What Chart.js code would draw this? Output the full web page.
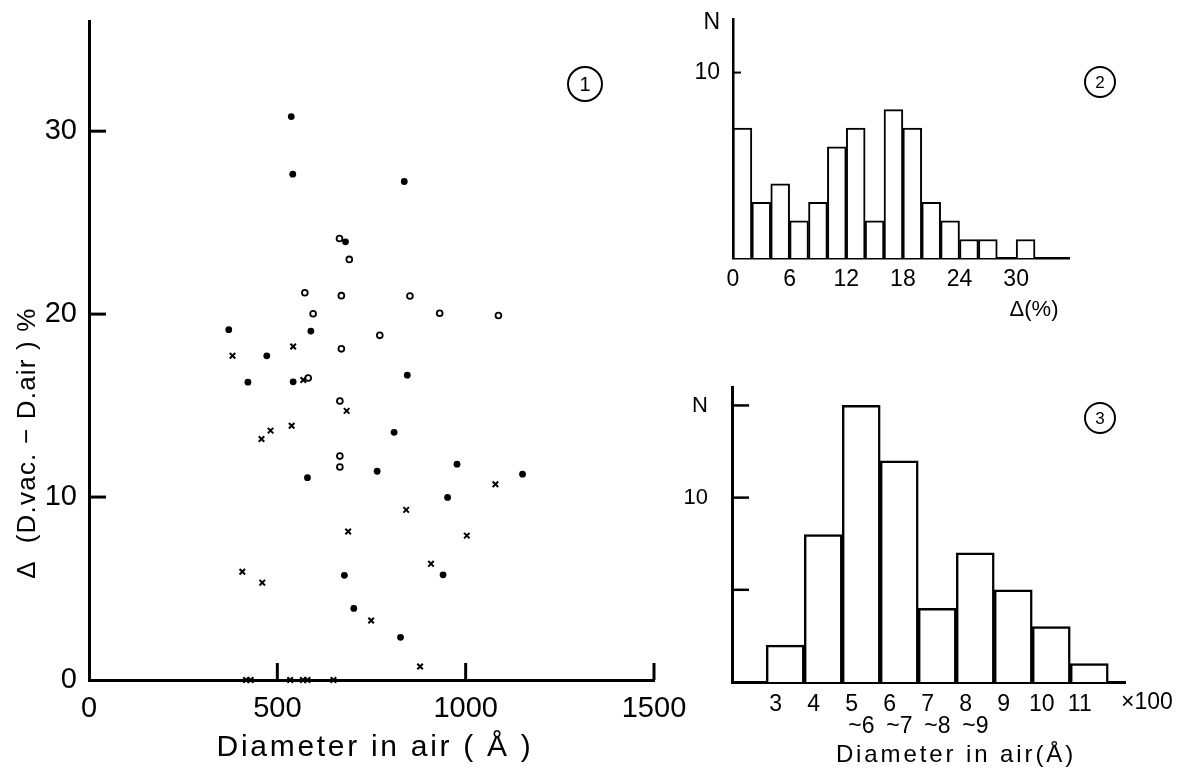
<!DOCTYPE html>
<html>
<head>
<meta charset="utf-8">
<title>Delta vs diameter</title>
<script src="https://cdn.jsdelivr.net/npm/chart.js@4.4.1/dist/chart.umd.min.js"></script>
<style>
  html, body { margin: 0; padding: 0; background: #fff; }
  #wrap { position: relative; width: 1178px; height: 769px; overflow: hidden; }
  canvas { position: absolute; }
</style>
</head>
<body>
<div id="wrap">
  <canvas id="scatter" width="700" height="769" style="left:0;top:0"></canvas>
  <canvas id="histDelta" width="498" height="340" style="left:680px;top:0"></canvas>
  <canvas id="histDiam" width="498" height="429" style="left:680px;top:340px"></canvas>
</div>
<script>
// ==========================
// Data (Diameter in air Å, Δ %)
// ==========================
const filledPts = [
  [537, 30.8], [541, 27.65], [837, 27.25], [681, 23.95], [371, 19.15], [589, 19.07],
  [472, 17.72], [422, 16.28], [542, 16.3], [845, 16.66], [810, 13.54], [580, 11.06],
  [765, 11.41], [977, 11.8], [1151, 11.25], [952, 9.98], [940, 5.75], [678, 5.72],
  [703, 3.91], [827, 2.33]
];
const openPts = [
  [665, 24.13], [691, 22.99], [573, 21.17], [670, 21.01], [852, 20.99], [595, 20.02],
  [931, 20.05], [1087, 19.92], [772, 18.84], [670, 18.1], [582, 16.51], [666, 15.25],
  [666, 12.24], [666, 11.64]
];
const crossPts = [
  [542, 18.23], [381, 17.72], [569, 16.4], [684, 14.71], [458, 13.17], [482, 13.63],
  [538, 13.9], [1079, 10.7], [842, 9.3], [688, 8.12], [1003, 7.89], [908, 6.35],
  [407, 5.92], [460, 5.32], [749, 3.25], [879, 0.74],
  [417, 0], [429, 0], [534, 0], [568, 0], [580, 0], [649, 0]
];
const scatterXTicks = [0, 500, 1000, 1500];
const scatterYTicks = [0, 10, 20, 30];

// histogram 2 : Δ (%) in bins of 2
const deltaBinCenters = [1, 3, 5, 7, 9, 11, 13, 15, 17, 19, 21, 23, 25, 27, 29, 31];
const deltaCounts = [7, 3, 4, 2, 3, 6, 7, 2, 8, 7, 3, 2, 1, 1, 0, 1];
const deltaXTicks = [0, 6, 12, 18, 24, 30];

// histogram 3 : diameter (x100 Å) in bins of 100
const diamBinCenters = [3.5, 4.5, 5.5, 6.5, 7.5, 8.5, 9.5, 10.5, 11.5];
const diamCounts = [2, 8, 15, 12, 4, 7, 5, 3, 1];
const diamXTicks = [3, 4, 5, 6, 7, 8, 9, 10, 11];
const diamTickLabels = ["3", "4", ["5", "   ~6"], ["6", "   ~7"], ["7", "   ~8"], ["8", "   ~9"], "9", "10", "11"];

const FONT = "'Liberation Sans', Arial, sans-serif";

const toXY = (arr) => arr.map(([x, y]) => ({ x, y }));
const setTicks = (vals) => (s) => { s.ticks = vals.map((v) => ({ value: v })); };

// ==========================
// Plugins: inner tick marks + free text
// ==========================
const innerTicks = {
  id: "innerTicks",
  afterDatasetsDraw(chart, args, opts) {
    const { ctx } = chart;
    const xs = chart.scales.x, ys = chart.scales.y;
    ctx.save();
    ctx.strokeStyle = "#000";
    ctx.lineWidth = opts.width || 2;
    (opts.x || []).forEach((v) => {
      const p = xs.getPixelForValue(v);
      ctx.beginPath(); ctx.moveTo(p, ys.bottom); ctx.lineTo(p, ys.bottom - opts.len); ctx.stroke();
    });
    (opts.y || []).forEach((v) => {
      const p = ys.getPixelForValue(v);
      ctx.beginPath(); ctx.moveTo(xs.left, p); ctx.lineTo(xs.left + opts.len, p); ctx.stroke();
    });
    ctx.restore();
  }
};

const notes = {
  id: "notes",
  afterDraw(chart, args, opts) {
    const { ctx } = chart;
    ctx.save();
    ctx.fillStyle = "#000";
    ctx.textAlign = "center";
    ctx.textBaseline = "middle";
    (opts.texts || []).forEach((t) => {
      ctx.save();
      ctx.font = t.font;
      ctx.letterSpacing = (t.spacing || 0) + "px";
      ctx.translate(t.x, t.y);
      if (t.rotate) ctx.rotate(t.rotate);
      ctx.fillText(t.text, 0, 0);
      ctx.restore();
    });
    (opts.circles || []).forEach((c) => {
      ctx.beginPath();
      ctx.lineWidth = 2;
      ctx.strokeStyle = "#000";
      ctx.arc(c.x, c.y, c.r, 0, Math.PI * 2);
      ctx.stroke();
      ctx.font = c.font;
      ctx.fillText(c.text, c.x, c.y + 1);
    });
    ctx.restore();
  }
};

const baseOpts = {
  responsive: false,
  animation: false,
  devicePixelRatio: 1,
  events: []
};

// ==========================
// 1: scatter
// ==========================
new Chart(document.getElementById("scatter"), {
  type: "scatter",
  data: {
    datasets: [
      { data: toXY(filledPts), pointStyle: "circle", pointRadius: 3.4, backgroundColor: "#000", borderColor: "#000", borderWidth: 0, clip: false },
      { data: toXY(openPts), pointStyle: "circle", pointRadius: 2.9, backgroundColor: "#fff", borderColor: "#000", borderWidth: 1.8, clip: false },
      { data: toXY(crossPts), pointStyle: "crossRot", pointRadius: 3.9, borderColor: "#000", borderWidth: 2, clip: false }
    ]
  },
  options: {
    ...baseOpts,
    layout: { padding: { top: 15, right: 46, bottom: 0, left: 0 } },
    plugins: {
      legend: { display: false },
      tooltip: { enabled: false },
      innerTicks: { x: [500, 1000, 1500], y: [10, 20, 30], len: 17, width: 3 },
      notes: {
        texts: [
          { text: "Diameter in air ( Å )", x: 375, y: 748, font: `30px ${FONT}`, spacing: 2.7 },
          { text: "Δ  (D.vac. − D.air ) %", x: 28, y: 443, font: `26px ${FONT}`, spacing: 1.2, rotate: -Math.PI / 2 }
        ],
        circles: [{ x: 585, y: 84, r: 17, text: "1", font: `20px ${FONT}` }]
      }
    },
    scales: {
      x: {
        type: "linear", min: 0, max: 1500, offset: false,
        afterBuildTicks: setTicks(scatterXTicks),
        afterFit: (s) => { s.height = 89; },
        grid: { display: false },
        border: { color: "#000", width: 3 },
        ticks: { color: "#000", font: { family: FONT, size: 29 }, padding: 4, maxRotation: 0, autoSkip: false,
                 callback: (v) => String(v) }
      },
      y: {
        type: "linear", min: 0, max: 36,
        afterBuildTicks: setTicks(scatterYTicks),
        afterFit: (s) => { s.width = 89; },
        grid: { display: false },
        border: { color: "#000", width: 3 },
        ticks: { color: "#000", font: { family: FONT, size: 29 }, padding: 4, autoSkip: false,
                 callback: (v) => String(v) }
      }
    }
  },
  plugins: [innerTicks, notes]
});

// ==========================
// 2: histogram of Δ
// ==========================
new Chart(document.getElementById("histDelta"), {
  type: "bar",
  data: {
    datasets: [{
      data: deltaBinCenters.map((c, i) => ({ x: c, y: deltaCounts[i] })),
      backgroundColor: "#fff",
      borderColor: "#000",
      borderWidth: 2,
      barPercentage: 1,
      categoryPercentage: 1
    }]
  },
  options: {
    ...baseOpts,
    layout: { padding: { top: 18, right: 109, bottom: 0, left: 0 } },
    plugins: {
      legend: { display: false },
      tooltip: { enabled: false },
      innerTicks: { y: [10], len: 8, width: 2 },
      notes: {
        texts: [{ text: "Δ(%)", x: 354, y: 310, font: `22px ${FONT}` }],
        circles: [{ x: 420, y: 82, r: 15, text: "2", font: `17px ${FONT}` }]
      }
    },
    scales: {
      x: {
        type: "linear", min: 0, max: 35.6, offset: false,
        afterBuildTicks: setTicks(deltaXTicks),
        afterFit: (s) => { s.height = 82; },
        grid: { display: false },
        border: { color: "#000", width: 2.5 },
        ticks: { color: "#000", font: { family: FONT, size: 23 }, padding: 0, maxRotation: 0, autoSkip: false }
      },
      y: {
        type: "linear", min: 0, max: 12.9,
        afterBuildTicks: setTicks([10, 12.7]),
        afterFit: (s) => { s.width = 53; },
        grid: { display: false },
        border: { color: "#000", width: 2.5 },
        ticks: { color: "#000", font: { family: FONT, size: 23 }, padding: 5, autoSkip: false,
                 callback: (v) => (v === 10 ? "10" : "N") }
      }
    }
  },
  plugins: [innerTicks, notes]
});

// ==========================
// 3: histogram of diameter
// ==========================
new Chart(document.getElementById("histDiam"), {
  type: "bar",
  data: {
    datasets: [{
      data: diamBinCenters.map((c, i) => ({ x: c, y: diamCounts[i] })),
      backgroundColor: "#fff",
      borderColor: "#000",
      borderWidth: 2.5,
      barPercentage: 1,
      categoryPercentage: 1
    }]
  },
  options: {
    ...baseOpts,
    layout: { padding: { top: 47, right: 53, bottom: 0, left: 0 } },
    plugins: {
      legend: { display: false },
      tooltip: { enabled: false },
      innerTicks: { y: [5, 10, 15], len: 17, width: 2.5 },
      notes: {
        texts: [
          { text: "×100", x: 467, y: 363, font: `23px ${FONT}` },
          { text: "Diameter in air(Å)", x: 276, y: 415, font: `24px ${FONT}`, spacing: 2.9 }
        ],
        circles: [{ x: 420, y: 78, r: 15, text: "3", font: `17px ${FONT}` }]
      }
    },
    scales: {
      x: {
        type: "linear", min: 2.1, max: 12.44, offset: false,
        afterBuildTicks: setTicks(diamXTicks),
        afterFit: (s) => { s.height = 87; },
        grid: { display: false },
        border: { color: "#000", width: 3 },
        ticks: { color: "#000", font: { family: FONT, size: 23, lineHeight: 0.95 }, padding: 4, labelOffset: 9.5,
                 maxRotation: 0, autoSkip: false, callback: (v, i) => diamTickLabels[i] }
      },
      y: {
        type: "linear", min: 0, max: 16,
        afterBuildTicks: setTicks([5, 10, 15]),
        afterFit: (s) => { s.width = 52; },
        grid: { display: false },
        border: { color: "#000", width: 3 },
        ticks: { color: "#000", font: { family: FONT, size: 22 }, padding: 16, autoSkip: false,
                 callback: (v) => (v === 10 ? "10" : v === 15 ? "N" : "") }
      }
    }
  },
  plugins: [innerTicks, notes]
});
</script>
</body>
</html>
